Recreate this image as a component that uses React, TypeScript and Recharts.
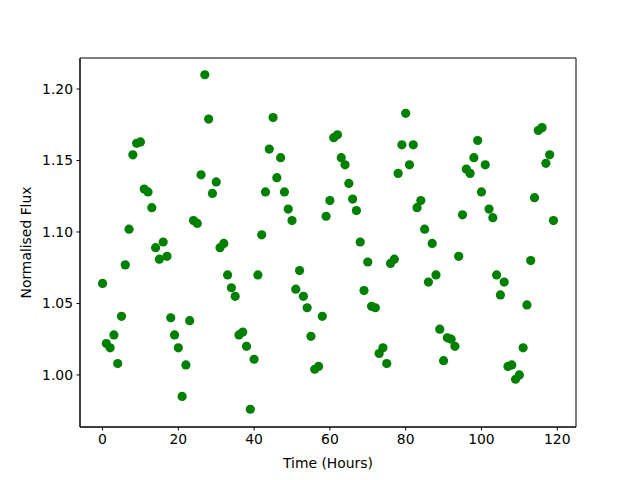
import React from "react";
import {
  ScatterChart,
  Scatter,
  XAxis,
  YAxis,
  Label,
  ReferenceArea,
} from "recharts";

// hours since start of observation
const hours = Array.from({ length: 120 }, (_, i) => i);

// normalised flux
const flux = [
  1.064, 1.022, 1.019, 1.028, 1.008, 1.041, 1.077, 1.102, 1.154, 1.162,
  1.163, 1.13, 1.128, 1.117, 1.089, 1.081, 1.093, 1.083, 1.04, 1.028,
  1.019, 0.985, 1.007, 1.038, 1.108, 1.106, 1.14, 1.21, 1.179, 1.127,
  1.135, 1.089, 1.092, 1.07, 1.061, 1.055, 1.028, 1.03, 1.02, 0.976,
  1.011, 1.07, 1.098, 1.128, 1.158, 1.18, 1.138, 1.152, 1.128, 1.116,
  1.108, 1.06, 1.073, 1.055, 1.047, 1.027, 1.004, 1.006, 1.041, 1.111,
  1.122, 1.166, 1.168, 1.152, 1.147, 1.134, 1.123, 1.115, 1.093, 1.059,
  1.079, 1.048, 1.047, 1.015, 1.019, 1.008, 1.078, 1.081, 1.141, 1.161,
  1.183, 1.147, 1.161, 1.117, 1.122, 1.102, 1.065, 1.092, 1.07, 1.032,
  1.01, 1.026, 1.025, 1.02, 1.083, 1.112, 1.144, 1.141, 1.152, 1.164,
  1.128, 1.147, 1.116, 1.11, 1.07, 1.056, 1.065, 1.006, 1.007, 0.997,
  1.0, 1.019, 1.049, 1.08, 1.124, 1.171, 1.173, 1.148, 1.154, 1.108,
];

const xTicks = [0, 20, 40, 60, 80, 100, 120];
const yTicks = [1.0, 1.05, 1.1, 1.15, 1.2];
const xDomain = [-5.95, 124.95];
const yDomain = [0.9636, 1.2217];

const data = hours.map((h, i) => ({ time: h, flux: flux[i] }));

const FONT = "'DejaVu Sans', sans-serif";
const tickStyle = { fontSize: 13.9, fill: "#000", fontFamily: FONT };

export default function App() {
  return (
    <div style={{ position: "absolute", left: 0, top: 0, background: "#fff" }}>
      <ScatterChart
        width={640}
        height={480}
        margin={{ top: 58, right: 64, bottom: 0, left: 0 }}
      >
        <XAxis
          type="number"
          dataKey="time"
          domain={xDomain}
          ticks={xTicks}
          allowDataOverflow
          height={53}
          tickSize={3.5}
          tickMargin={3.5}
          tick={tickStyle}
          stroke="#000"
          tickLine={{ stroke: "#000" }}
          axisLine={{ stroke: "#000" }}
        >
          <Label
            value="Time (Hours)"
            position="insideBottom"
            offset={12}
            style={{ fontSize: 13.9, fill: "#000", fontFamily: FONT }}
          />
        </XAxis>
        <YAxis
          type="number"
          dataKey="flux"
          domain={yDomain}
          ticks={yTicks}
          allowDataOverflow
          width={80}
          tickSize={3.5}
          tickMargin={3.5}
          tick={tickStyle}
          tickFormatter={(v: number) => v.toFixed(2)}
          tickLine={{ stroke: "#000" }}
          axisLine={{ stroke: "#000" }}
        >
          <Label
            content={(props: any) => {
              const vb = props.viewBox || {};
              const cy = (vb.y || 0) + (vb.height || 0) / 2;
              return (
                <text
                  x={26}
                  y={cy}
                  transform={`rotate(-90, 26, ${cy})`}
                  textAnchor="middle"
                  dominantBaseline="central"
                  style={{ fontSize: 13.9, fill: "#000", fontFamily: FONT }}
                >
                  Normalised Flux
                </text>
              );
            }}
          />
        </YAxis>
        {/* axes frame, like matplotlib's four spines */}
        <ReferenceArea
          x1={xDomain[0]}
          x2={xDomain[1]}
          y1={yDomain[0]}
          y2={yDomain[1]}
          fill="none"
          fillOpacity={0}
          stroke="#000"
          strokeWidth={1}
          ifOverflow="visible"
        />
        <Scatter
          data={data}
          fill="#008000"
          isAnimationActive={false}
          shape={(p: any) => (
            <circle cx={p.cx} cy={p.cy} r={4.6} fill="#008000" />
          )}
        />
      </ScatterChart>
    </div>
  );
}
